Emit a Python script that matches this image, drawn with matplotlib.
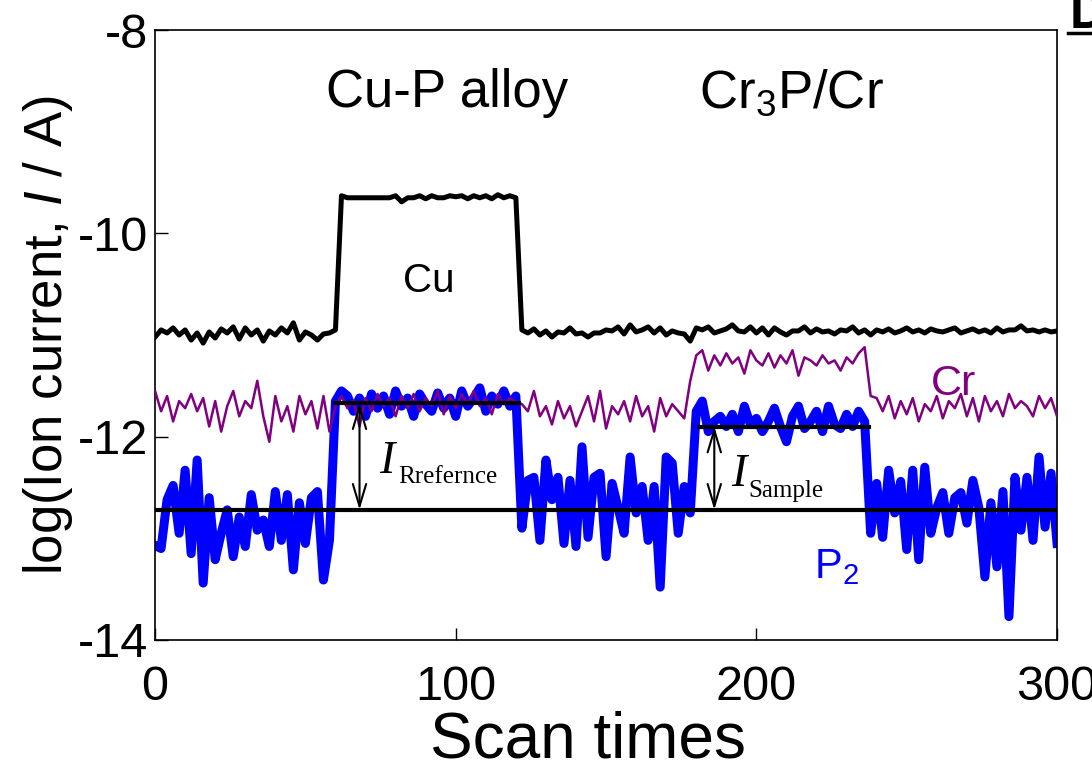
import numpy as np
import matplotlib
matplotlib.use('Agg')
import matplotlib.pyplot as plt
from matplotlib.lines import Line2D

plt.rcParams['font.family'] = ['Liberation Sans', 'DejaVu Sans']
plt.rcParams['mathtext.fontset'] = 'custom'
plt.rcParams['mathtext.rm'] = 'Liberation Sans'
plt.rcParams['mathtext.it'] = 'Liberation Sans:italic'
plt.rcParams['mathtext.bf'] = 'Liberation Sans:bold'
plt.rcParams['axes.unicode_minus'] = False

# scan index, every 2nd scan
scans = np.arange(0, 301, 2)

cu = [
    -11.02, -10.95, -10.98, -10.93, -11.00, -10.95, -11.05, -10.98, -11.08, -10.97,
    -11.03, -10.94, -10.98, -10.92, -11.04, -10.93, -11.00, -10.95, -11.06, -10.96,
    -11.00, -10.93, -10.98, -10.88, -11.05, -10.97, -11.00, -11.05, -10.99, -10.98,
    -10.95,
    -9.63, -9.65, -9.65, -9.65, -9.65, -9.65, -9.65, -9.65, -9.65, -9.63,
    -9.69, -9.65, -9.65, -9.63, -9.66, -9.63, -9.65, -9.65, -9.63, -9.64,
    -9.63, -9.66, -9.63, -9.65, -9.63, -9.66, -9.62, -9.65, -9.63, -9.65,
    -10.95, -10.98, -10.94, -11.00, -10.96, -11.02, -10.97, -10.98, -10.93, -10.99,
    -10.98, -11.02, -10.98, -10.98, -10.95, -10.96, -10.92, -10.99, -10.90, -10.97,
    -10.95, -10.92, -10.98, -10.93, -11.00, -10.96, -10.98, -10.99, -11.06, -10.93,
    -10.95, -10.92, -10.98, -10.96, -10.94, -10.90, -10.96, -10.97, -10.92, -10.98,
    -10.93, -11.00, -10.93, -10.97, -11.00, -10.96, -10.96, -10.92, -10.98, -10.94,
    -10.97, -10.96, -10.99, -10.95, -10.96, -10.92, -10.98, -10.95, -11.00, -10.95,
    -10.97, -10.94, -10.98, -10.96, -10.93, -10.97, -10.95, -10.98, -10.94, -10.96,
    -10.97, -10.95, -10.93, -10.98, -10.96, -10.94, -10.97, -10.95, -10.98, -10.93,
    -10.97, -10.95, -10.95, -10.91, -10.96, -10.95, -10.97, -10.95, -10.97, -10.96,
]

cr = [
    -11.55, -11.75, -11.60, -11.85, -11.65, -11.72, -11.58, -11.75, -11.62, -11.90,
    -11.65, -11.95, -11.70, -11.55, -11.80, -11.65, -11.72, -11.45, -11.80, -12.05,
    -11.60, -11.85, -11.70, -11.95, -11.60, -11.78, -11.65, -11.92, -11.60, -11.95,
    -11.70, -11.60, -11.72, -11.65, -11.90, -11.62, -11.75, -11.58, -11.70, -11.62,
    -11.80, -11.60, -11.72, -11.58, -11.75, -11.62, -11.70, -11.55, -11.78, -11.60,
    -11.72, -11.58, -11.68, -11.55, -11.70, -11.62, -11.78, -11.58, -11.68, -11.62,
    -11.66, -11.68, -11.75, -11.55, -11.80, -11.70, -11.88, -11.65, -11.82, -11.70,
    -11.90, -11.75, -11.60, -11.85, -11.55, -11.92, -11.70, -11.78, -11.65, -11.85,
    -11.60, -11.80, -11.70, -11.95, -11.62, -11.80, -11.68, -11.75, -11.82, -11.45,
    -11.20, -11.15, -11.35, -11.20, -11.30, -11.18, -11.28, -11.22, -11.38, -11.15,
    -11.25, -11.30, -11.18, -11.32, -11.20, -11.28, -11.15, -11.40, -11.22, -11.25,
    -11.30, -11.20, -11.28, -11.25, -11.35, -11.22, -11.28, -11.18, -11.12, -11.60,
    -11.62, -11.75, -11.60, -11.82, -11.65, -11.78, -11.62, -11.85, -11.68, -11.75,
    -11.60, -11.82, -11.65, -11.72, -11.58, -11.80, -11.62, -11.85, -11.60, -11.75,
    -11.65, -11.80, -11.58, -11.72, -11.65, -11.70, -11.80, -11.60, -11.72, -11.62,
    -11.80,
]

p2 = [
    -13.07, -13.10, -12.62, -12.48, -12.95, -12.33, -13.15, -12.23, -13.44, -12.60,
    -13.21, -12.95, -12.72, -13.18, -12.79, -13.08, -12.57, -12.92, -12.82, -13.08,
    -12.54, -13.02, -12.57, -13.31, -12.65, -13.05, -12.60, -12.54, -13.41, -13.02,
    -11.65, -11.55, -11.60, -11.75, -11.62, -11.80, -11.58, -11.72, -11.60, -11.78,
    -11.55, -11.70, -11.62, -11.80, -11.58, -11.68, -11.75, -11.57, -11.72, -11.62,
    -11.80, -11.55, -11.70, -11.62, -11.52, -11.75, -11.60, -11.68, -11.55, -11.70,
    -11.60,
    -12.90, -12.43, -12.40, -13.02, -12.23, -12.62, -12.40, -13.05, -12.43, -13.08,
    -12.10, -12.99, -12.40, -12.36, -13.18, -12.46, -12.70, -12.95, -12.20, -12.75,
    -12.49, -13.02, -12.49, -13.48, -12.20, -12.26, -12.95, -12.49, -12.75,
    -11.75, -11.65, -11.95, -11.85, -11.80, -11.90, -11.78, -11.95, -11.70, -11.88,
    -11.82, -11.95, -11.85, -11.72, -11.90, -12.05, -11.80, -11.70, -11.92, -11.85,
    -11.75, -11.95, -11.70, -11.88, -11.92, -11.78, -11.90, -11.75, -11.85,
    -12.95, -12.46, -12.99, -12.33, -12.75, -12.44, -13.11, -12.33, -13.21, -12.30,
    -12.95, -12.70, -12.55, -12.95, -12.60, -12.55, -12.85, -12.43, -12.70, -13.38,
    -12.65, -13.28, -12.54, -13.77, -12.40, -12.92, -12.40, -13.02, -12.20, -12.89,
    -12.36, -13.05,
]

# reference levels and where they are drawn
base_level = -12.72
ref_level, ref_span = -11.67, (60, 121)
sample_level, sample_span = -11.90, (181, 237.5)
ref_arrow_x = 68
sample_arrow_x = 186

fig = plt.figure(figsize=(10.92, 7.8), dpi=100)
ax = fig.add_axes([0.142, 0.1795, 0.826, 0.782])

ax.plot(scans, p2, color='#0000ff', lw=6.5, solid_joinstyle='round', zorder=2)
ax.plot(scans, cr, color='#800080', lw=1.8, zorder=3)
ax.plot(scans, cu, color='black', lw=3.6, solid_joinstyle='round', zorder=4)

ax.plot([0, 300], [base_level, base_level], color='black', lw=3, zorder=5)
ax.plot(ref_span, [ref_level, ref_level], color='black', lw=3, zorder=5)
ax.plot(sample_span, [sample_level, sample_level], color='black', lw=3, zorder=5)

arrow = dict(arrowstyle='<->,head_length=1.0,head_width=0.3', lw=1.5,
             color='black', shrinkA=0, shrinkB=0, mutation_scale=16)
ax.annotate('', xy=(ref_arrow_x, ref_level), xytext=(ref_arrow_x, base_level),
            arrowprops=arrow, zorder=6)
ax.annotate('', xy=(sample_arrow_x, sample_level),
            xytext=(sample_arrow_x, base_level), arrowprops=arrow, zorder=6)

ax.text(97, -8.76, 'Cu-P alloy', fontsize=38, ha='center', va='baseline')
ax.text(211.5, -8.76, 'Cr$_3$P/Cr', fontsize=38, ha='center', va='baseline')
ax.text(91, -10.58, 'Cu', fontsize=29, ha='center', va='baseline')
ax.text(265.4, -11.59, 'Cr', fontsize=31, ha='center', va='baseline',
        color='#800080')
ax.text(219, -13.39, 'P$_2$', fontsize=30, ha='left', va='baseline',
        color='#0000ff')

# I with serif subscripts
serif = ['Liberation Serif', 'DejaVu Serif']
ax.text(74.5, -12.36, 'I', family=serif, style='italic', fontsize=33,
        va='baseline')
ax.text(80.8, -12.455, 'Rrefernce', family=serif, fontsize=18, va='baseline')
ax.text(191.7, -12.49, 'I', family=serif, style='italic', fontsize=33,
        va='baseline')
ax.text(197.2, -12.59, 'Sample', family=serif, fontsize=18, va='baseline')

ax.set_xlim(0, 300)
ax.set_ylim(-14, -8)
ax.set_xticks([0, 100, 200, 300])
ax.set_yticks([-14, -12, -10, -8])
ax.tick_params(direction='in', length=9, width=1, labelsize=35)
ax.tick_params(axis='x', pad=18)
ax.tick_params(axis='y', pad=5)
for s in ax.spines.values():
    s.set_linewidth(1.2)

ax.set_xlabel('Scan times', fontsize=46, labelpad=2)
ax.xaxis.set_label_coords(0.48, -0.115, transform=ax.transAxes)
ax.xaxis.label.set_va('top')
ax.set_ylabel('log(Ion current, $I$ / A)', fontsize=38, labelpad=2)

# clipped panel letter in the corner
fig.text(1070 / 1092, 1 - 28 / 780, 'D', fontsize=36, fontweight='bold',
         ha='left', va='baseline')
fig.add_artist(Line2D([1068 / 1092, 1.0], [1 - 33 / 780, 1 - 33 / 780],
                      color='black', lw=2.5, transform=fig.transFigure))

fig.savefig('out.png', dpi=100)
